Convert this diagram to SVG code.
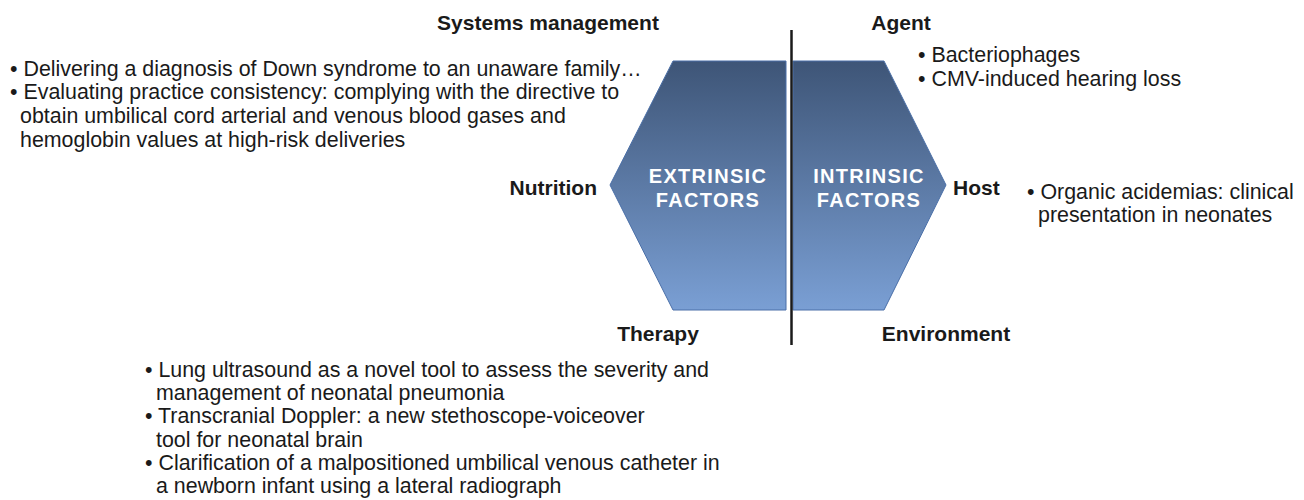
<svg xmlns="http://www.w3.org/2000/svg" width="1304" height="500" viewBox="0 0 1304 500">
  <style>
    .hdr { font-family: "Liberation Sans", Arial, sans-serif; font-size: 21px; font-weight: bold; fill: #1a1a1a; }
    .txt { font-family: "Liberation Sans", Arial, sans-serif; font-size: 21.4px; fill: #1a1a1a; }
    .core { font-family: "Liberation Sans", Arial, sans-serif; font-size: 20px; font-weight: bold; fill: #ffffff; letter-spacing: 1.3px; }
    .half { fill: url(#hexFill); stroke: #4a6fa8; stroke-width: 1; }
  </style>
  <defs>
    <linearGradient id="hexFill" x1="0" y1="0" x2="0" y2="1">
      <stop offset="0" stop-color="#3e5577"/>
      <stop offset="1" stop-color="#7a9fd4"/>
    </linearGradient>
  </defs>
  <rect width="1304" height="500" fill="#ffffff"/>

  <!-- left half of the hexagon -->
  <g id="extrinsic">
    <polygon class="half" points="673,61 786,61 786,310 673,310 610,185"/>
    <text class="core" text-anchor="middle" x="708" y="183">EXTRINSIC</text>
    <text class="core" text-anchor="middle" x="708" y="207">FACTORS</text>
  </g>

  <!-- right half of the hexagon -->
  <g id="intrinsic">
    <polygon class="half" points="793,61 884,61 946,185 884,310 793,310"/>
    <text class="core" text-anchor="middle" x="869" y="183">INTRINSIC</text>
    <text class="core" text-anchor="middle" x="869" y="207">FACTORS</text>
  </g>

  <!-- dividing line -->
  <g id="connectors">
    <line x1="791.5" y1="30" x2="791.5" y2="345" stroke="#1a1a1a" stroke-width="2.5"/>
  </g>

  <g id="systems-management">
    <text class="hdr" text-anchor="middle" x="548" y="30">Systems management</text>
    <text class="txt" x="10" y="76">• Delivering a diagnosis of Down syndrome to an unaware family…</text>
    <text class="txt" x="10" y="99">• Evaluating practice consistency: complying with the directive to</text>
    <text class="txt" x="20" y="123">obtain umbilical cord arterial and venous blood gases and</text>
    <text class="txt" x="20" y="147">hemoglobin values at high-risk deliveries</text>
  </g>

  <g id="agent">
    <text class="hdr" text-anchor="middle" x="901" y="30">Agent</text>
    <text class="txt" x="918" y="62">• Bacteriophages</text>
    <text class="txt" x="918" y="86">• CMV-induced hearing loss</text>
  </g>

  <g id="nutrition">
    <text class="hdr" text-anchor="end" x="597" y="195">Nutrition</text>
  </g>

  <g id="host">
    <text class="hdr" x="953" y="195">Host</text>
    <text class="txt" x="1027" y="199">• Organic acidemias: clinical</text>
    <text class="txt" x="1038" y="222">presentation in neonates</text>
  </g>

  <g id="therapy">
    <text class="hdr" text-anchor="middle" x="658" y="341">Therapy</text>
    <text class="txt" x="145" y="377">• Lung ultrasound as a novel tool to assess the severity and</text>
    <text class="txt" x="156" y="400">management of neonatal pneumonia</text>
    <text class="txt" x="145" y="423">• Transcranial Doppler: a new stethoscope-voiceover</text>
    <text class="txt" x="156" y="447">tool for neonatal brain</text>
    <text class="txt" x="145" y="470">• Clarification of a malpositioned umbilical venous catheter in</text>
    <text class="txt" x="156" y="493">a newborn infant using a lateral radiograph</text>
  </g>

  <g id="environment">
    <text class="hdr" text-anchor="middle" x="946" y="341">Environment</text>
  </g>
</svg>
